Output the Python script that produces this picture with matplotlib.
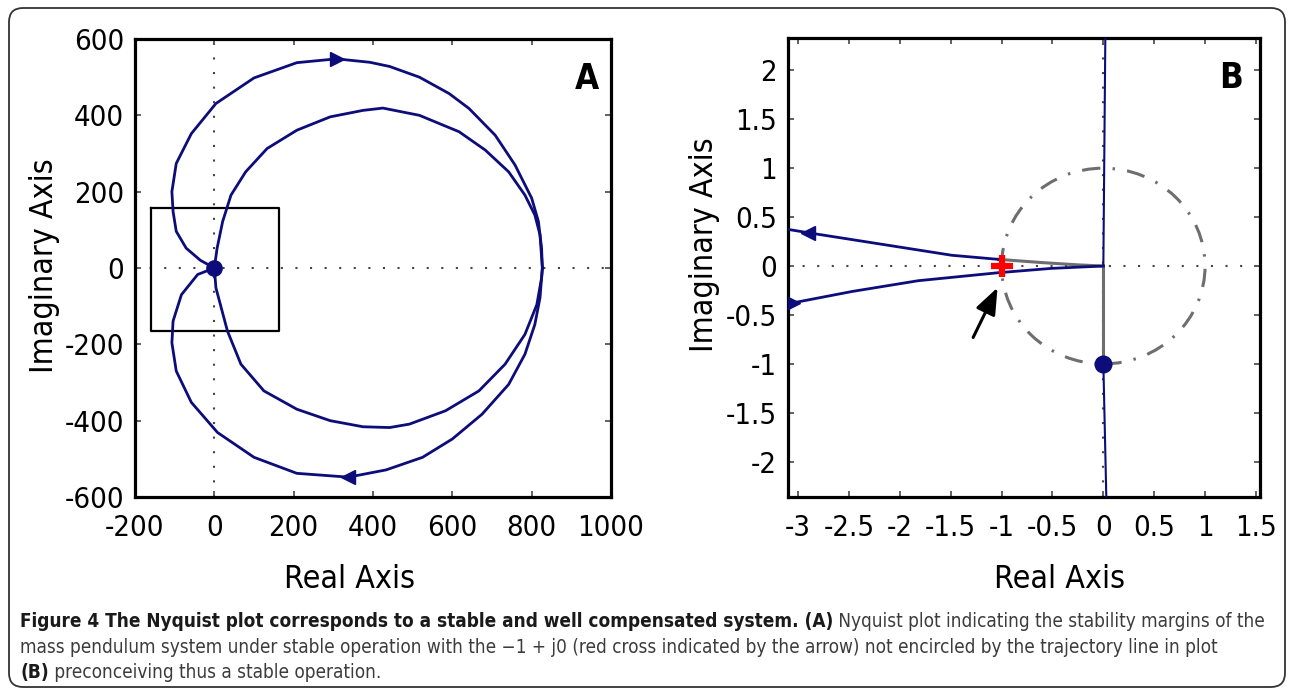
import matplotlib
matplotlib.use("Agg")
import matplotlib.pyplot as plt
from matplotlib import font_manager
from matplotlib.font_manager import FontProperties
from matplotlib.patches import FancyBboxPatch, Circle
from matplotlib.transforms import IdentityTransform

# ---- data ----
# panel A: Nyquist curve, upper and lower halves (outer loop and inner circle)
a_outer_up_x = [0, -35, -71, -96, -104, -107, -96, -58, 4, 100, 208, 308, 392, 442, 517, 592, 642, 708, 758, 800, 817, 825, 827]
a_outer_up_y = [0, 20, 52, 96, 148, 200, 274, 352, 431, 498, 538, 548, 539, 528, 500, 457, 418, 348, 270, 183, 122, 52, 0]
a_inner_up_x = [0, 7, 21, 42, 79, 133, 208, 292, 375, 425, 517, 617, 683, 742, 783, 808, 821, 827]
a_inner_up_y = [0, 52, 122, 191, 252, 313, 361, 396, 413, 419, 400, 357, 309, 252, 191, 139, 87, 0]
a_outer_lo_x = [0, -42, -83, -104, -107, -96, -58, 8, 100, 208, 338, 433, 525, 600, 675, 742, 783, 808, 821, 827]
a_outer_lo_y = [0, -17, -70, -139, -196, -270, -352, -431, -496, -538, -548, -529, -496, -448, -383, -305, -226, -148, -78, 0]
a_inner_lo_x = [0, 4, 33, 67, 125, 208, 292, 375, 442, 492, 583, 667, 733, 783, 813, 825, 827]
a_inner_lo_y = [0, -52, -165, -252, -322, -370, -400, -416, -418, -409, -374, -322, -252, -174, -96, -26, 0]
a_arrow_x = [308, 338]
a_arrow_y = [548, -548]
a_arrow_dir = [">", "<"]
a_zoom_box_x = [-160, 163, 163, -160, -160]
a_zoom_box_y = [158, 158, -164, -164, 158]
a_ticks_x = [-200, 0, 200, 400, 600, 800, 1000]
a_ticks_y = [-600, -400, -200, 0, 200, 400, 600]

# panel B: zoom around -1 + j0
b_up_x = [-3.12, -2.90, -2.47, -1.98, -1.49, -1.03]
b_up_y = [0.378, 0.34, 0.27, 0.19, 0.11, 0.068]
b_up_gray_x = [-1.03, -0.6, -0.25, 0]
b_up_gray_y = [0.068, 0.035, 0.012, 0]
b_lo_x = [-3.12, -2.47, -1.82, -1.03, -0.51, 0]
b_lo_y = [-0.39, -0.26, -0.15, -0.068, -0.024, 0]
b_vert_top_x = [0.0, 0.02]
b_vert_top_y = [0.0, 2.4]
b_vert_gray_x = [0.0, 0.0]
b_vert_gray_y = [0.0, -1.0]
b_vert_bot_x = [0.0, 0.03]
b_vert_bot_y = [-1.0, -2.4]
b_arrow_x = [-2.90, -3.05]
b_arrow_y = [0.34, -0.375]
b_arrow_dir = ["<", ">"]
b_ticks_x = [-3, -2.5, -2, -1.5, -1, -0.5, 0, 0.5, 1, 1.5]
b_ticks_y = [-2, -1.5, -1, -0.5, 0, 0.5, 1, 1.5, 2]
b_ticklabels_x = ["-3", "-2.5", "-2", "-1.5", "-1", "-0.5", "0", "0.5", "1", "1.5"]
b_ticklabels_y = ["-2", "-1.5", "-1", "-0.5", "0", "0.5", "1", "1.5", "2"]

caption = [
    [("Figure 4 The Nyquist plot corresponds to a stable and well compensated system. (A)", "bold"),
     (" Nyquist plot indicating the stability margins of the", "normal")],
    [("mass pendulum system under stable operation with the \u22121 + j0 (red cross indicated by the arrow) "
      "not encircled by the trajectory line in plot", "normal")],
    [("(B)", "bold"), (" preconceiving thus a stable operation.", "normal")],
]

navy = "#0c0c7a"
gray = "#6e6e6e"

# look for a narrow / condensed sans face, like the Helvetica Narrow of the original
regular_path, bold_path = None, None
for f in font_manager.fontManager.ttflist:
    narrow = ("Narrow" in f.name or "Condensed" in f.name
              or f.stretch in ("condensed", "semi-condensed", "extra-condensed", 375))
    if not narrow or f.style != "normal":
        continue
    w = f.weight if isinstance(f.weight, int) else {"normal": 400, "regular": 400, "bold": 700}.get(f.weight, 400)
    if w == 400 and regular_path is None:
        regular_path = f.fname
    if w == 700 and bold_path is None:
        bold_path = f.fname

if regular_path:
    fp_reg = lambda s: FontProperties(fname=regular_path, size=s)
    fp_bold = lambda s: FontProperties(fname=bold_path or regular_path, size=s,
                                       weight="bold")
    tick_fs, lab_fs, let_fs = 21, 23, 25
else:
    fp_reg = lambda s: FontProperties(family="Liberation Sans", size=s)
    fp_bold = lambda s: FontProperties(family="Liberation Sans", size=s, weight="bold")
    tick_fs, lab_fs, let_fs = 19, 22, 22

W, H = 1292, 693
fig = plt.figure(figsize=(W / 100, H / 100), dpi=100)

# rounded frame round the whole figure
frame = FancyBboxPatch((9, 6), 1276, 679, boxstyle="round,pad=0,rounding_size=14",
                       transform=IdentityTransform(), fc="none", ec="#333333", lw=1.3)
fig.patches.append(frame)


def px_axes(l, t, r, b):
    return fig.add_axes([l / W, 1 - b / H, (r - l) / W, (b - t) / H])


def style(ax):
    for s in ax.spines.values():
        s.set_linewidth(2.3)
    ax.tick_params(direction="in", top=True, right=True, length=4, width=1.3,
                   color="#555555")
    ax.tick_params(axis="x", pad=12)
    ax.tick_params(axis="y", pad=8)
    for lab in ax.get_xticklabels() + ax.get_yticklabels():
        lab.set_fontproperties(fp_reg(tick_fs))


# ---- panel A ----
axA = px_axes(135, 39, 611, 497)
axA.axhline(0, color="#444444", lw=1.5, ls=(0, (1, 6)), zorder=1)
axA.axvline(0, color="#444444", lw=1.5, ls=(0, (1, 6)), zorder=1)
axA.plot(a_zoom_box_x, a_zoom_box_y, color="black", lw=1.6, zorder=2)
for xs, ys in [(a_outer_up_x, a_outer_up_y), (a_inner_up_x, a_inner_up_y),
               (a_outer_lo_x, a_outer_lo_y), (a_inner_lo_x, a_inner_lo_y)]:
    axA.plot(xs, ys, color=navy, lw=2, zorder=3)
for x, y, m in zip(a_arrow_x, a_arrow_y, a_arrow_dir):
    axA.plot([x], [y], marker=m, ms=10, color=navy, zorder=4)
axA.plot([0], [0], "o", ms=11, color=navy, zorder=5)
axA.set_xlim(-200, 1000)
axA.set_ylim(-600, 600)
axA.set_xticks(a_ticks_x)
axA.set_yticks(a_ticks_y)
axA.set_xticklabels([str(v) for v in a_ticks_x])
axA.set_yticklabels([str(v) for v in a_ticks_y])
style(axA)
axA.text(0.975, 0.95, "A", transform=axA.transAxes, ha="right", va="top",
         fontproperties=fp_bold(let_fs))

# ---- panel B ----
axB = px_axes(788, 38, 1260, 497)
axB.axhline(0, color="#444444", lw=1.5, ls=(0, (1, 6)), zorder=1)
axB.axvline(0, color="#444444", lw=1.5, ls=(0, (1, 6)), zorder=1)
axB.add_patch(Circle((0, 0), 1, fill=False, ec=gray, lw=2.2, ls=(0, (6, 4, 0.8, 4)), zorder=2))
axB.plot(b_up_gray_x, b_up_gray_y, color=gray, lw=2.2, zorder=3)
axB.plot(b_vert_gray_x, b_vert_gray_y, color=gray, lw=2.2, zorder=3)
axB.plot(b_up_x, b_up_y, color=navy, lw=2, zorder=4)
axB.plot(b_lo_x, b_lo_y, color=navy, lw=2, zorder=4)
axB.plot(b_vert_top_x, b_vert_top_y, color=navy, lw=1.5, zorder=4)
axB.plot(b_vert_bot_x, b_vert_bot_y, color=navy, lw=1.5, zorder=4)
for x, y, m in zip(b_arrow_x, b_arrow_y, b_arrow_dir):
    axB.plot([x], [y], marker=m, ms=10, color=navy, zorder=5)
axB.plot([0], [-1], "o", ms=12, color=navy, zorder=6)
axB.plot([-1], [0], marker="+", ms=16, mew=4.5, color="red", zorder=7)
axB.annotate("", xy=(-1.04, -0.22), xytext=(-1.28, -0.73),
             arrowprops=dict(arrowstyle="-|>,head_length=0.9,head_width=0.35",
                             color="black", lw=2.2, mutation_scale=18, shrinkA=0, shrinkB=0))
axB.set_xlim(-3.10, 1.54)
axB.set_ylim(-2.36, 2.33)
axB.set_xticks(b_ticks_x)
axB.set_yticks(b_ticks_y)
axB.set_xticklabels(b_ticklabels_x)
axB.set_yticklabels(b_ticklabels_y)
style(axB)
axB.text(0.965, 0.95, "B", transform=axB.transAxes, ha="right", va="top",
         fontproperties=fp_bold(let_fs))

# axis titles
fig.text(350 / W, 1 - 580 / H, "Real Axis", ha="center", va="center", fontproperties=fp_reg(lab_fs))
fig.text(1060 / W, 1 - 580 / H, "Real Axis", ha="center", va="center", fontproperties=fp_reg(lab_fs))
fig.text(45 / W, 1 - 266 / H, "Imaginary Axis", ha="center", va="center", rotation=90,
         fontproperties=fp_reg(lab_fs))
fig.text(705 / W, 1 - 245 / H, "Imaginary Axis", ha="center", va="center", rotation=90,
         fontproperties=fp_reg(lab_fs))

# ---- caption, laid out run by run; size chosen so the lines fill the width ----
renderer = fig.canvas.get_renderer()


def line_width(line, size):
    total = 0
    for s, w in line:
        fp = fp_bold(size) if w == "bold" else fp_reg(size)
        t = fig.text(0, 0, s, fontproperties=fp)
        total += t.get_window_extent(renderer).width
        t.remove()
    return total


cap_fs = min(12 * 1245 / line_width(caption[0], 12), 12 * 1222 / line_width(caption[1], 12))
baselines = [627, 653, 678]
for line, yb in zip(caption, baselines):
    x = 20
    for s, w in line:
        fp = fp_bold(cap_fs) if w == "bold" else fp_reg(cap_fs)
        t = fig.text(x / W, 1 - yb / H, s, fontproperties=fp,
                     color="#1a1a1a" if w == "bold" else "#3c3c3c", va="baseline")
        x += t.get_window_extent(renderer).width

fig.savefig("out.png", dpi=100)
